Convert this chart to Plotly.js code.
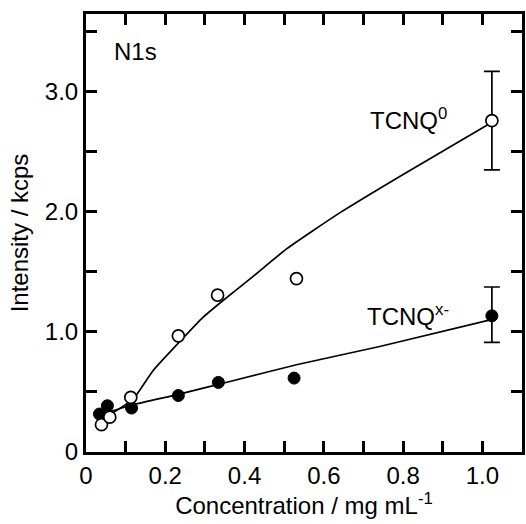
<!DOCTYPE html>
<html>
<head>
<meta charset="utf-8">
<script src="https://cdn.plot.ly/plotly-3.0.1.min.js"></script>
<style>html,body{margin:0;padding:0;background:#fff;}#chart{width:526px;height:524px;}</style>
</head>
<body>
<div id="chart"></div>
<script>
// Measured data (concentration in mg/mL, intensity in kcps)
var neutralX = [0.039, 0.060, 0.113, 0.233, 0.332, 0.531, 1.024];
var neutralY = [0.227, 0.290, 0.454, 0.967, 1.305, 1.443, 2.757];
var neutralErrIndex = 6;
var neutralErr = 0.41;

var anionX = [0.034, 0.054, 0.115, 0.233, 0.334, 0.525, 1.024];
var anionY = [0.316, 0.385, 0.366, 0.470, 0.579, 0.615, 1.133];
var anionErrIndex = 6;
var anionErrPlus = 0.24;
var anionErrMinus = 0.22;

// Fitted curves
var neutralFitX = [0.035, 0.070, 0.119, 0.170, 0.237, 0.295, 0.338, 0.421, 0.506, 0.640, 0.800, 1.020];
var neutralFitY = [0.25, 0.33, 0.44, 0.68, 0.92, 1.12, 1.24, 1.46, 1.69, 1.99, 2.31, 2.735];
var anionFitX = [0.035, 0.118, 0.233, 0.363, 0.531, 0.741, 1.020];
var anionFitY = [0.31, 0.393, 0.480, 0.587, 0.726, 0.878, 1.100];

var xTickVals = [0, 0.1, 0.2, 0.3, 0.4, 0.5, 0.6, 0.7, 0.8, 0.9, 1.0];
var xTickText = ['0', '', '0.2', '', '0.4', '', '0.6', '', '0.8', '', '1.0'];
var yTickVals = [0, 0.5, 1.0, 1.5, 2.0, 2.5, 3.0, 3.5];
var yTickText = ['0', '', '1.0', '', '2.0', '', '3.0', ''];

var FONT = 'Liberation Sans, Arial, sans-serif';
var FS = 24;

var traces = [
  {x: neutralFitX, y: neutralFitY, mode: 'lines', line: {color: '#000', width: 1.7, shape: 'spline', smoothing: 0.5}, hoverinfo: 'skip'},
  {x: anionFitX, y: anionFitY, mode: 'lines', line: {color: '#000', width: 1.7, shape: 'spline', smoothing: 0.5}, hoverinfo: 'skip'},
  // error bars (only on the last points)
  {x: [anionX[anionErrIndex]], y: [anionY[anionErrIndex]], mode: 'markers', marker: {size: 1, color: 'rgba(0,0,0,0)'},
   error_y: {type: 'data', symmetric: false, array: [anionErrPlus], arrayminus: [anionErrMinus], color: '#000', thickness: 1.7, width: 8}},
  {x: [neutralX[neutralErrIndex]], y: [neutralY[neutralErrIndex]], mode: 'markers', marker: {size: 1, color: 'rgba(0,0,0,0)'},
   error_y: {type: 'data', array: [neutralErr], color: '#000', thickness: 1.7, width: 8}},
  {x: anionX, y: anionY, mode: 'markers',
   marker: {symbol: 'circle', size: 12, color: '#000', line: {color: '#000', width: 1}}},
  {x: neutralX, y: neutralY, mode: 'markers',
   marker: {symbol: 'circle', size: 12, color: '#fff', line: {color: '#000', width: 1.7}}}
];

var axisCommon = {
  showgrid: false, zeroline: false, showline: true, linecolor: '#000', linewidth: 3,
  mirror: 'ticks', ticks: 'inside', ticklen: 11, tickwidth: 3, tickcolor: '#000',
  tickmode: 'array', tickfont: {family: FONT, size: FS, color: '#000'}
};

var layout = {
  width: 526, height: 524,
  margin: {l: 86, r: 4, t: 14, b: 72},
  paper_bgcolor: '#fff', plot_bgcolor: '#fff',
  showlegend: false,
  font: {family: FONT, color: '#000'},
  xaxis: Object.assign({}, axisCommon, {
    range: [0, 1.1], tickvals: xTickVals, ticktext: xTickText,
    title: {text: 'Concentration / mg mL<sup>-1</sup>', font: {family: FONT, size: FS, color: '#000'}, standoff: 8}
  }),
  yaxis: Object.assign({}, axisCommon, {
    range: [0, 3.645], tickvals: yTickVals, ticktext: yTickText,
    title: {text: 'Intensity / kcps', font: {family: FONT, size: FS, color: '#000'}, standoff: 10}
  }),
  annotations: [
    {x: 0.065, y: 3.33, xref: 'x', yref: 'y', text: 'N1s', showarrow: false, xanchor: 'left', font: {family: FONT, size: FS, color: '#000'}},
    {x: 0.915, y: 2.77, xref: 'x', yref: 'y', text: 'TCNQ<sup>0</sup>', showarrow: false, xanchor: 'right', font: {family: FONT, size: FS, color: '#000'}},
    {x: 0.92, y: 1.14, xref: 'x', yref: 'y', text: 'TCNQ<sup>x-</sup>', showarrow: false, xanchor: 'right', font: {family: FONT, size: FS, color: '#000'}}
  ]
};

Plotly.newPlot('chart', traces, layout, {displayModeBar: false, staticPlot: true});
</script>
</body>
</html>
